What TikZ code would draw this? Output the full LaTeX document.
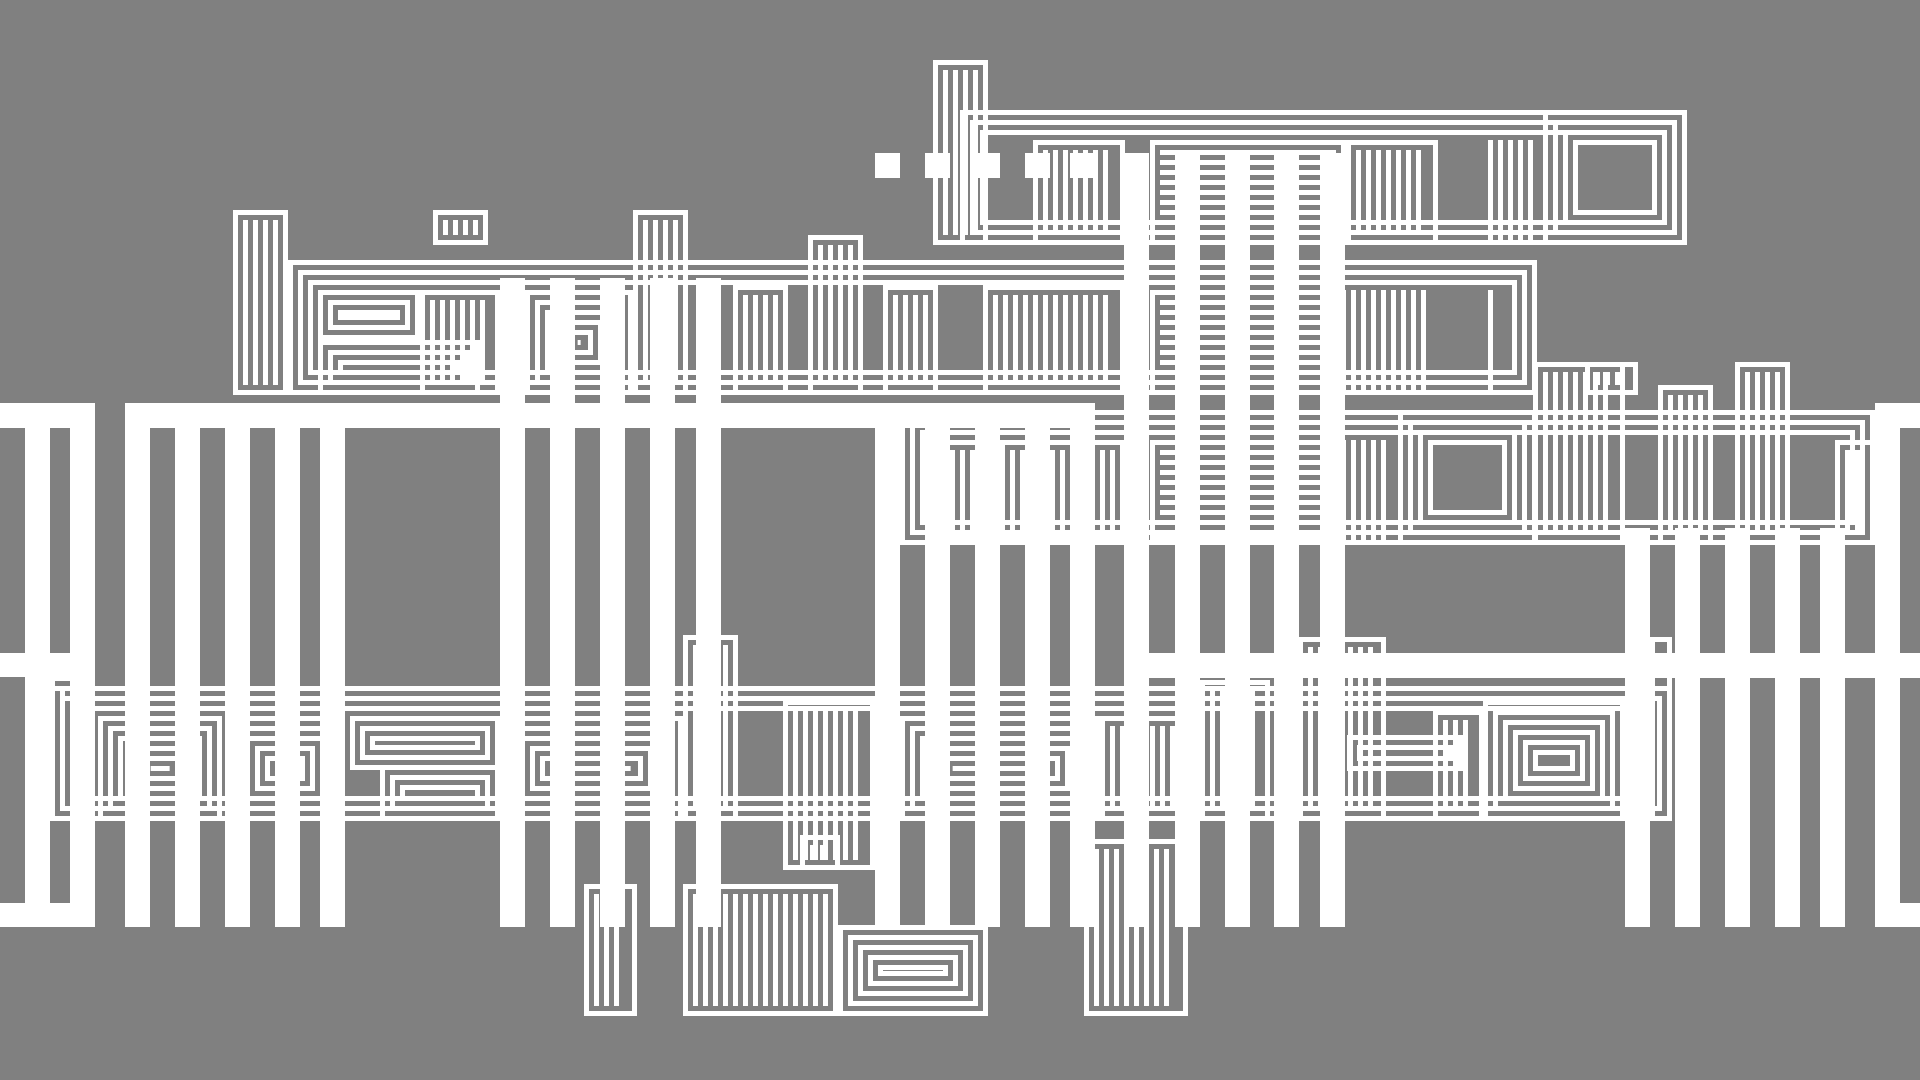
\documentclass[tikz,border=0pt]{standalone}
\definecolor{bg}{RGB}{128,128,128}
\tikzset{ring/.style={draw=white,line width=1mm},wbar/.style={fill=white}}
% concentric rings
\newcommand\nest[4]{%
  \pgfmathtruncatemacro\nk{floor((min(#3-#1,#4-#2)-5)/20)}%
  \foreach \k in {0,...,\nk}{%
    \draw[ring] ({#1+10*\k+2.5},{#2+10*\k+2.5}) rectangle ({#3-10*\k-2.5},{#4-10*\k-2.5});
  }%
}
% n outer rings
\newcommand\rings[5]{%
  \pgfmathtruncatemacro\nr{#1-1}%
  \foreach \k in {0,...,\nr}{%
    \draw[ring] ({#2+10*\k+2.5},{#3+10*\k+2.5}) rectangle ({#4-10*\k-2.5},{#5-10*\k-2.5});
  }%
}
% frame with vertical stripes
\newcommand\vs[4]{%
  \draw[ring] ({#1+2.5},{#2+2.5}) rectangle ({#3-2.5},{#4-2.5});
  \pgfmathtruncatemacro\nv{floor((#3-#1-15)/10)}%
  \ifnum\nv>0 \foreach \k in {1,...,\nv}{\fill[wbar] ({#1+10*\k},{#2+10}) rectangle ({#1+10*\k+5},{#4-10});}\fi
}
% frame with horizontal stripes
\newcommand\hs[4]{%
  \draw[ring] ({#1+2.5},{#2+2.5}) rectangle ({#3-2.5},{#4-2.5});
  \pgfmathtruncatemacro\nh{floor((#4-#2-15)/10)}%
  \ifnum\nh>0 \foreach \k in {1,...,\nh}{\fill[wbar] ({#1+10},{#2+10*\k}) rectangle ({#3-10},{#2+10*\k+5});}\fi
}
% vertical lines only
\newcommand\vl[4]{%
  \pgfmathtruncatemacro\nv{floor((#3-#1-5)/10)}%
  \foreach \k in {0,...,\nv}{\fill[wbar] ({#1+10*\k},{#2}) rectangle ({#1+10*\k+5},{#4});}%
}
\newcommand\wb[4]{\fill[wbar] (#1,#2) rectangle (#3,#4);}
\begin{document}
\begin{tikzpicture}[x=0.2mm,y=-0.2mm]
\fill[bg] (0,0) rectangle (1920,1080);
\useasboundingbox (0,0) rectangle (1920,1080);
% ---------- top blocks
\vs{233}{210}{288}{395}
\vs{433}{210}{488}{245}
\vs{633}{210}{688}{395}
\vs{808}{235}{863}{395}
\vs{933}{60}{988}{245}
\rings{3}{960}{110}{1687}{245}
\vs{1033}{140}{1125}{245}
\hs{1150}{140}{1346}{245}
\vs{1346}{140}{1438}{245}
\vl{1488}{140}{1538}{245}
\rings{4}{1543}{110}{1687}{245}
% ---------- band 1
\rings{3}{288}{260}{1537}{395}
\nest{318}{290}{420}{340}
\nest{318}{340}{480}{395}
\vs{420}{290}{500}{395}
\nest{525}{290}{633}{395}
\vs{733}{285}{788}{395}
\vs{883}{285}{938}{395}
\vs{983}{285}{1125}{395}
\hs{1150}{290}{1346}{395}
\vl{1351}{290}{1433}{395}
\vl{1488}{290}{1502}{395}
% ---------- middle band
\rings{3}{900}{410}{1875}{545}
\vs{930}{440}{1000}{540}
\vs{1000}{440}{1125}{540}
\hs{1150}{440}{1346}{540}
\vl{1351}{440}{1393}{545}
\rings{4}{1398}{410}{1537}{545}
\vs{1533}{362}{1625}{545}
\vs{1585}{362}{1638}{395}
\vs{1658}{385}{1713}{545}
\vs{1735}{362}{1790}{545}
\vs{1835}{440}{1875}{545}
% ---------- lower band
\rings{3}{50}{686}{1672}{821}
\vs{50}{676}{75}{821}
\nest{98}{716}{222}{821}
\nest{225}{716}{345}{821}
\nest{350}{716}{500}{770}
\nest{380}{765}{500}{821}
\nest{500}{716}{683}{821}
\vs{683}{635}{738}{821}
\vs{783}{700}{875}{870}
\vs{800}{835}{840}{870}
\nest{900}{716}{1100}{821}
\vs{1100}{716}{1200}{821}
\vs{1200}{680}{1270}{821}
\vs{1298}{637}{1386}{821}
\nest{1347}{735}{1463}{771}
\vs{1433}{710}{1484}{821}
\nest{1483}{700}{1625}{821}
\vs{1650}{637}{1672}{821}
% ---------- bottom blocks
\vs{584}{884}{637}{1016}
\vs{683}{884}{838}{1016}
\nest{838}{925}{988}{1016}
\vs{1084}{839}{1188}{1016}
% ---------- thick bars
% left frame
\wb{0}{403}{95}{428}
\wb{0}{903}{95}{927}
\wb{0}{653}{95}{677}
\wb{25}{403}{50}{927}
\wb{70}{403}{95}{927}
% frame B
\wb{125}{403}{1095}{428}
\foreach \x in {125,175,225,275,320}{\wb{\x}{403}{\x+25}{927}}
\foreach \x in {500,550,600,650,696}{\wb{\x}{278}{\x+25}{927}}
\foreach \x in {875,925,975,1025,1070}{\wb{\x}{403}{\x+25}{927}\wb{\x}{153}{\x+25}{178}}
% group C
\foreach \x in {1124,1175,1225,1274,1320}{\wb{\x}{153}{\x+25}{927}}
\wb{1125}{653}{1920}{678}
% group D
\foreach \x in {1625,1675,1725,1775,1820}{\wb{\x}{528}{\x+25}{927}}
% right frame
\wb{1875}{403}{1900}{927}
\wb{1875}{403}{1920}{428}
\wb{1875}{903}{1920}{927}
\end{tikzpicture}
\end{document}
